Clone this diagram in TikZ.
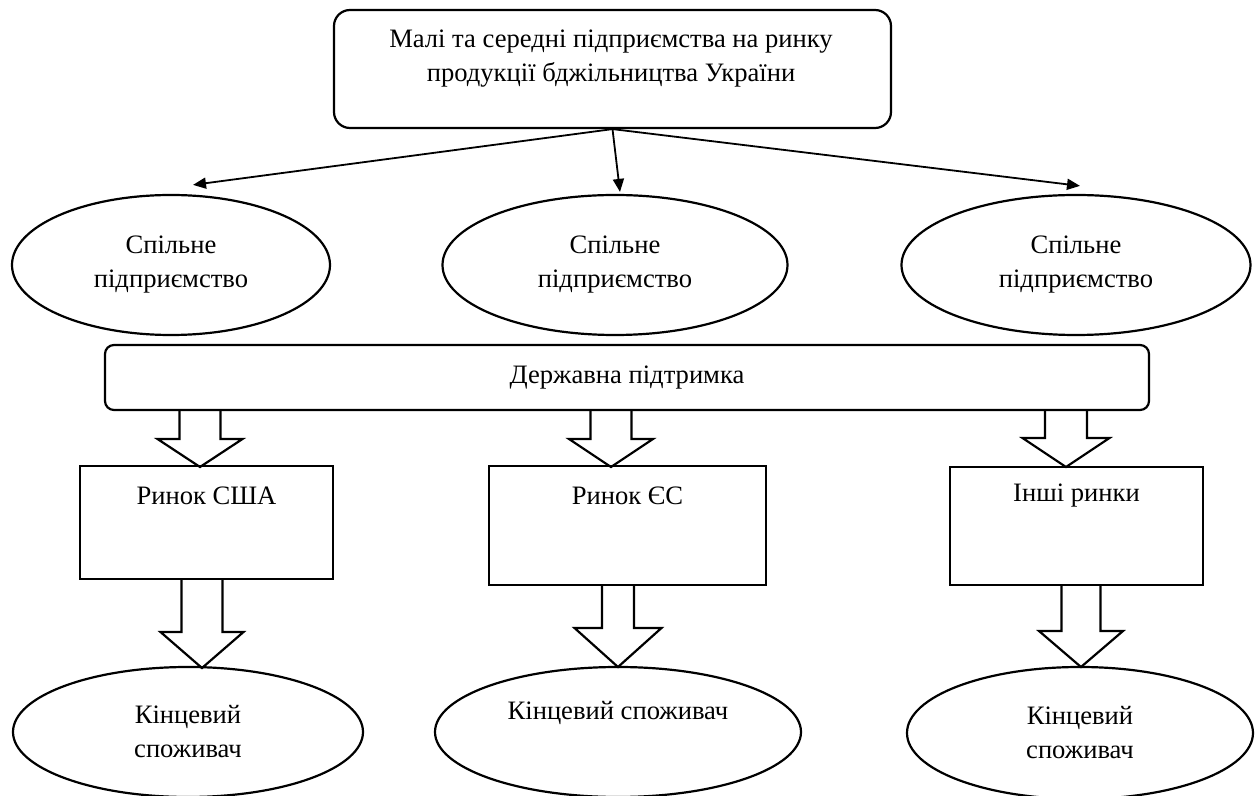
\documentclass[tikz,border=0pt]{standalone}
\usepackage{fontspec}
\setmainfont{Liberation Serif}
\usetikzlibrary{shapes.geometric,arrows.meta}
\newcommand\blockarr[6]{%
  \draw[barrow] (#1-#5,#2) -- (#1-#5,#3) -- (#1-#6,#3) -- (#1,#4) -- (#1+#6,#3) -- (#1+#5,#3) -- (#1+#5,#2);}
\begin{document}
\begin{tikzpicture}[x=0.5pt,y=-0.5pt,
  every node/.style={font=\fontsize{13.3}{17}\selectfont, align=center},
  oval/.style={draw, line width=1.1pt, ellipse, inner sep=0pt},
  rbox/.style={draw, line width=1.1pt, rectangle, inner sep=0pt},
  txt/.style={inner sep=0pt},
  barrow/.style={line width=1.1pt, line join=miter},
  conn/.style={line width=0.9pt, -{Triangle[length=6.5pt,width=5.5pt]}}]
\useasboundingbox (0,0) rectangle (1255,796);
% top box
\node[rbox, rounded corners=8pt, minimum width=278.5pt, minimum height=59pt] (top) at (612.5,69) {};
\node[txt] (toptxt) at (611,59) {Малі та середні підприємства на ринку\\продукції бджільництва України};
% joint ventures
\node[oval, minimum width=159pt, minimum height=70pt] (jv1) at (171,265) {Спільне\\підприємство};
\node[oval, minimum width=172.5pt, minimum height=70pt] (jv2) at (615,265) {Спільне\\підприємство};
\node[oval, minimum width=174.5pt, minimum height=70pt] (jv3) at (1076,265) {Спільне\\підприємство};
\draw[conn] (top.south) -- ([shift={(22,-9)}]jv1.north);
\draw[conn] (top.south) -- ([shift={(5,-2)}]jv2.north);
\draw[conn] (top.south) -- ([shift={(4,-8)}]jv3.north);
% government support
\node[rbox, rounded corners=4.5pt, minimum width=522pt, minimum height=32.5pt] (gov) at (627,377.5) {Державна підтримка};
% markets
\node[rbox, minimum width=126.5pt, minimum height=56.5pt] (usa) at (206.5,522.5) {};
\node[txt] (usatxt) at (206.5,496) {Ринок США};
\node[rbox, minimum width=138.5pt, minimum height=59.5pt] (eu) at (627.5,525.5) {};
\node[txt] (eutxt) at (627.5,496) {Ринок ЄС};
\node[rbox, minimum width=126.5pt, minimum height=59pt] (oth) at (1076.5,526) {};
\node[txt] (othtxt) at (1076.5,496) {Інші ринки};
% consumers
\node[oval, minimum width=175pt, minimum height=65pt] (c1) at (188,732) {Кінцевий\\споживач};
\node[oval, minimum width=183pt, minimum height=65pt] (c2) at (618,732) {};
\node[txt] (c2txt) at (618,713) {Кінцевий споживач};
\node[oval, minimum width=173pt, minimum height=66pt] (c3) at (1080,733) {Кінцевий\\споживач};
% block arrows
\blockarr{200}{410}{439}{467}{20.5}{42.5}
\blockarr{611}{410}{439}{467}{20.5}{42}
\blockarr{1066}{410}{438}{467}{21}{43.5}
\blockarr{202}{579}{632}{668}{20.5}{41.5}
\blockarr{618}{585}{628}{667}{16}{43.5}
\blockarr{1081}{585}{631}{667}{19.5}{42}
\end{tikzpicture}
\end{document}
